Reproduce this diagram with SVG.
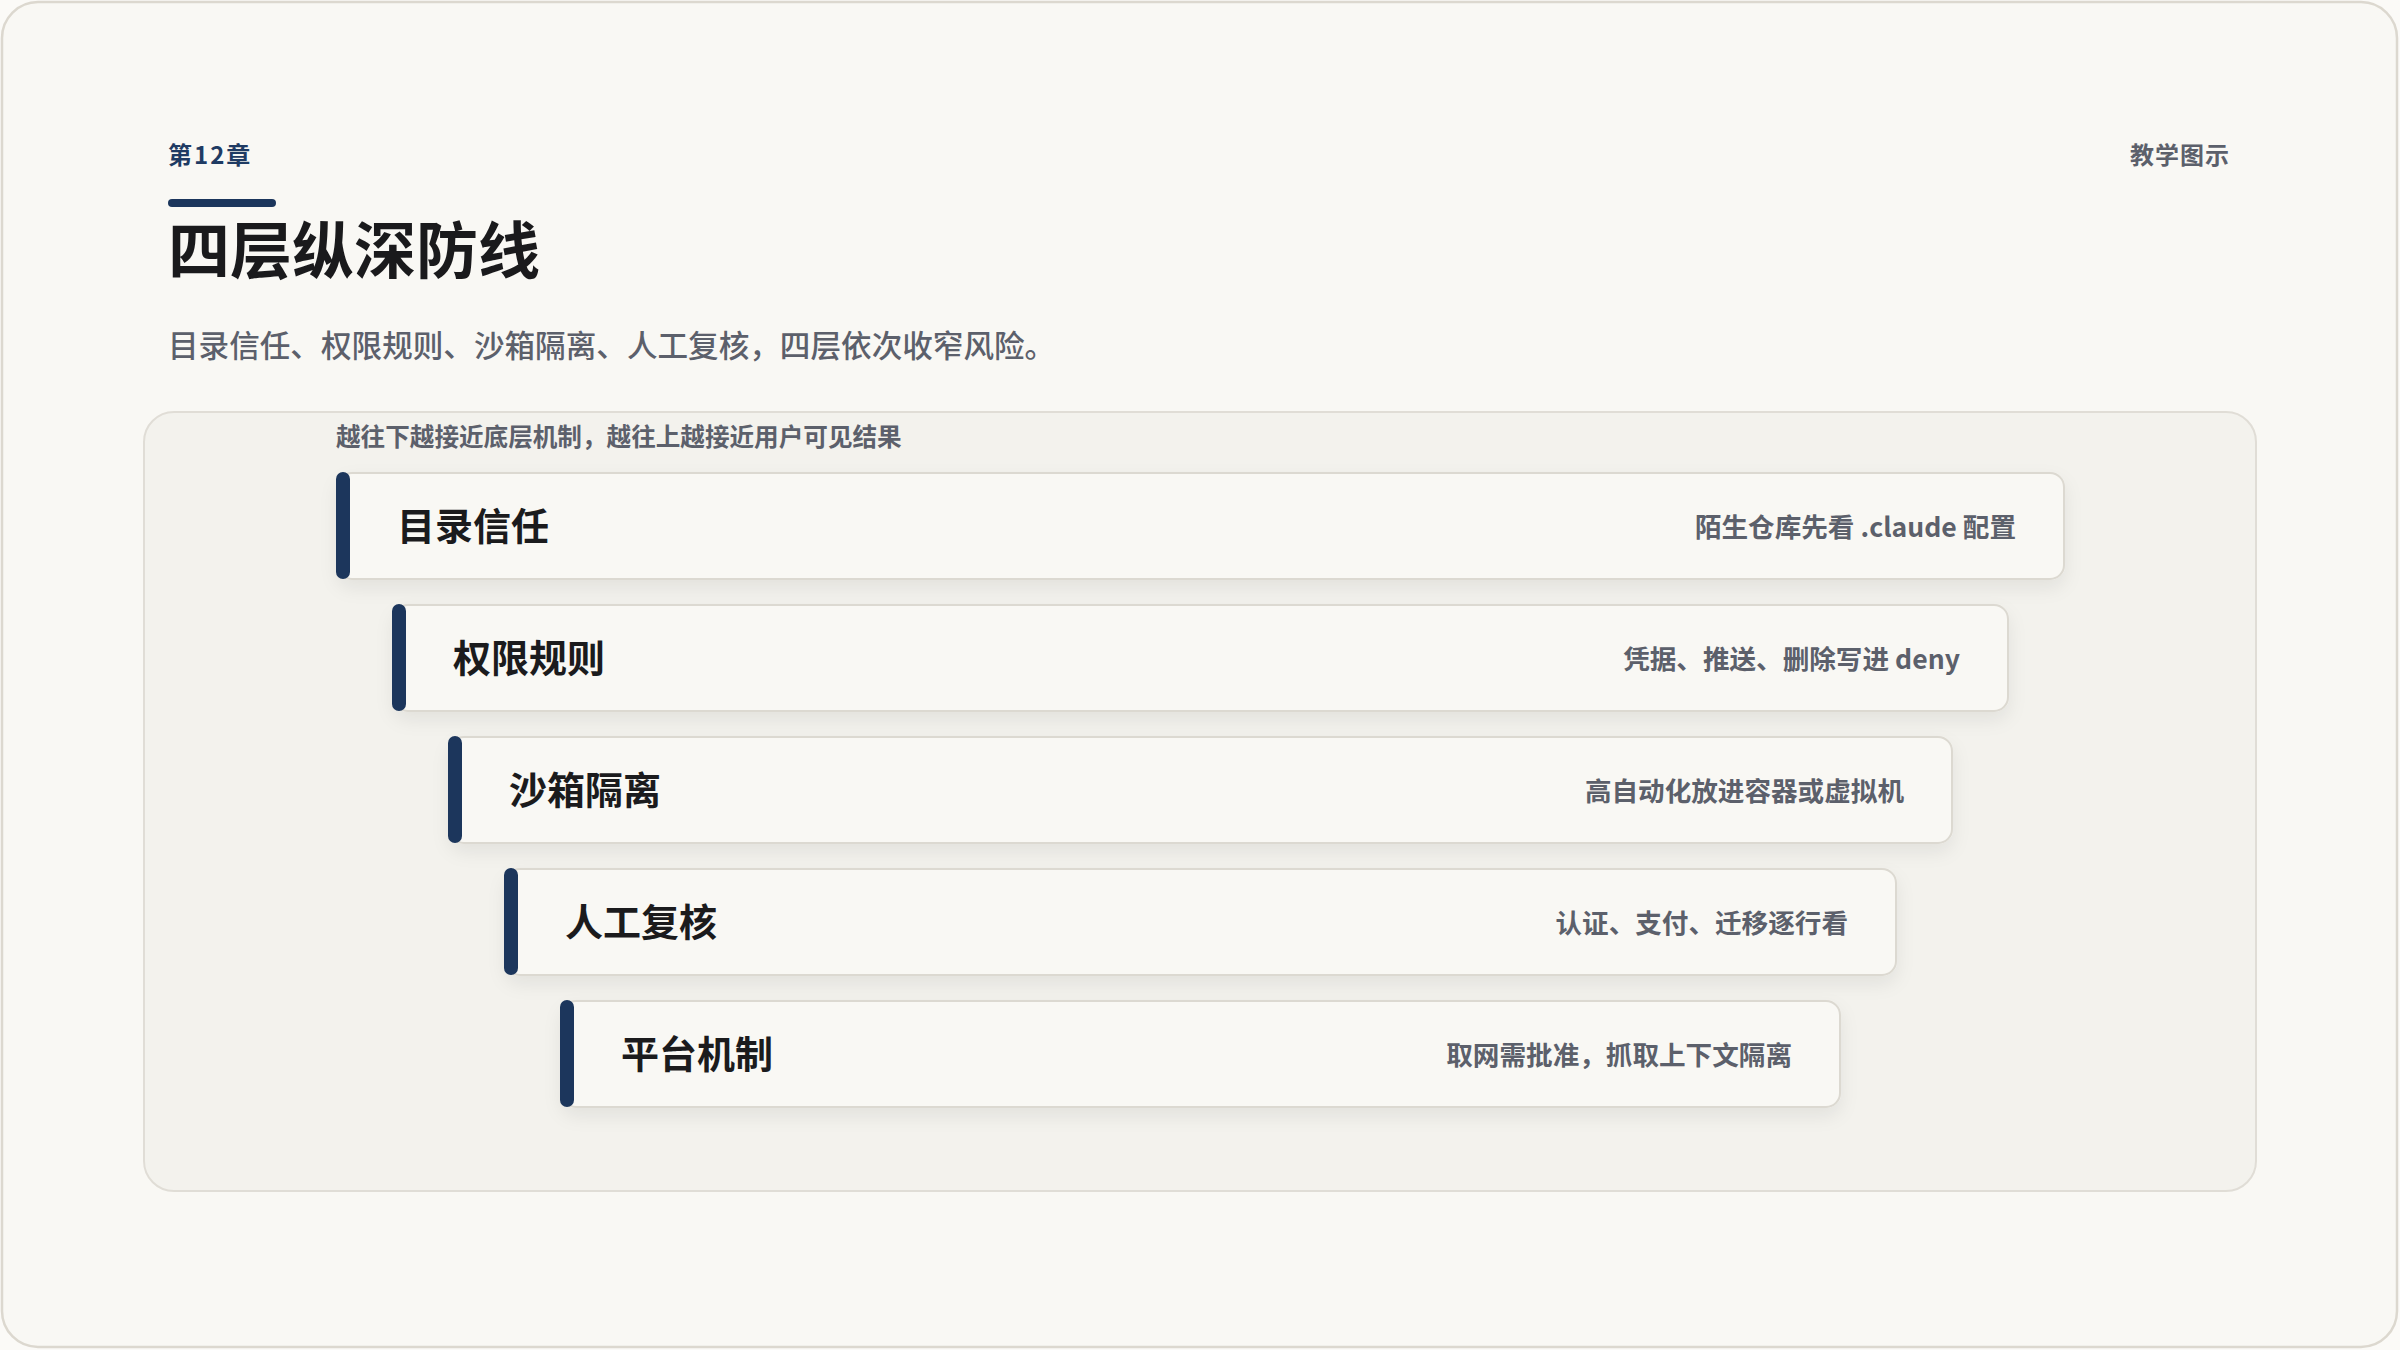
<svg xmlns="http://www.w3.org/2000/svg" width="2400" height="1350" viewBox="0 0 2400 1350">
  <defs>
    <filter id="shadow" x="-5%" y="-30%" width="110%" height="170%">
      <feDropShadow dx="0" dy="8" stdDeviation="9" flood-color="#000000" flood-opacity="0.07"/>
    </filter>
  </defs>
  <style>
    text { font-family: "Noto Sans CJK SC", "Noto Sans", "Liberation Sans", sans-serif; }
    .card { fill: #f9f8f4; stroke: #dcd9d1; stroke-width: 2; }
    .bar { fill: #1c365c; }
    .ctitle { font-size: 38px; font-weight: 700; fill: #1b1b1d; }
    .cdesc { font-size: 26.6px; font-weight: 700; fill: #5c606b; text-anchor: end; }
  </style>

  <rect x="0" y="0" width="2400" height="1350" fill="#fbfaf7"/>
  <g id="frame">
    <rect x="2" y="2" width="2395" height="1345" rx="36" fill="#f9f8f4" stroke="#dcd8cf" stroke-width="2.5"/>
  </g>

  <g id="header">
    <text x="168" y="164" font-size="24" font-weight="700" fill="#1f3b63" letter-spacing="2">第12章</text>
    <rect x="168" y="199" width="108" height="8" rx="4" fill="#1c365c"/>
    <text x="168" y="274" font-size="62" font-weight="700" fill="#1a1a1c">四层纵深防线</text>
    <text x="168" y="357" font-size="30.6" font-weight="500" fill="#5c606b">目录信任、权限规则、沙箱隔离、人工复核，四层依次收窄风险。</text>
    <text x="2230" y="164" font-size="24" font-weight="700" fill="#5c606b" text-anchor="end" letter-spacing="1">教学图示</text>
  </g>

  <g id="panel">
    <rect x="144" y="412" width="2112" height="779" rx="30" fill="#f3f2ed" stroke="#e0ddd6" stroke-width="2"/>
    <text x="336" y="446" font-size="24.6" font-weight="700" fill="#5c606b">越往下越接近底层机制，越往上越接近用户可见结果</text>
  </g>

  <g id="connectors"></g>

  <g id="layer1">
    <rect class="card" x="338" y="473" width="1726" height="106" rx="14" filter="url(#shadow)"/>
    <rect class="bar" x="336" y="472" width="14" height="107" rx="7"/>
    <text class="ctitle" x="397" y="540">目录信任</text>
    <text class="cdesc" x="2016" y="537">陌生仓库先看 .claude 配置</text>
  </g>

  <g id="layer2">
    <rect class="card" x="394" y="605" width="1614" height="106" rx="14" filter="url(#shadow)"/>
    <rect class="bar" x="392" y="604" width="14" height="107" rx="7"/>
    <text class="ctitle" x="453" y="672">权限规则</text>
    <text class="cdesc" x="1960" y="669">凭据、推送、删除写进 deny</text>
  </g>

  <g id="layer3">
    <rect class="card" x="450" y="737" width="1502" height="106" rx="14" filter="url(#shadow)"/>
    <rect class="bar" x="448" y="736" width="14" height="107" rx="7"/>
    <text class="ctitle" x="509" y="804">沙箱隔离</text>
    <text class="cdesc" x="1904" y="801">高自动化放进容器或虚拟机</text>
  </g>

  <g id="layer4">
    <rect class="card" x="506" y="869" width="1390" height="106" rx="14" filter="url(#shadow)"/>
    <rect class="bar" x="504" y="868" width="14" height="107" rx="7"/>
    <text class="ctitle" x="565" y="936">人工复核</text>
    <text class="cdesc" x="1848" y="933">认证、支付、迁移逐行看</text>
  </g>

  <g id="layer5">
    <rect class="card" x="562" y="1001" width="1278" height="106" rx="14" filter="url(#shadow)"/>
    <rect class="bar" x="560" y="1000" width="14" height="107" rx="7"/>
    <text class="ctitle" x="621" y="1068">平台机制</text>
    <text class="cdesc" x="1792" y="1065">取网需批准，抓取上下文隔离</text>
  </g>
</svg>
